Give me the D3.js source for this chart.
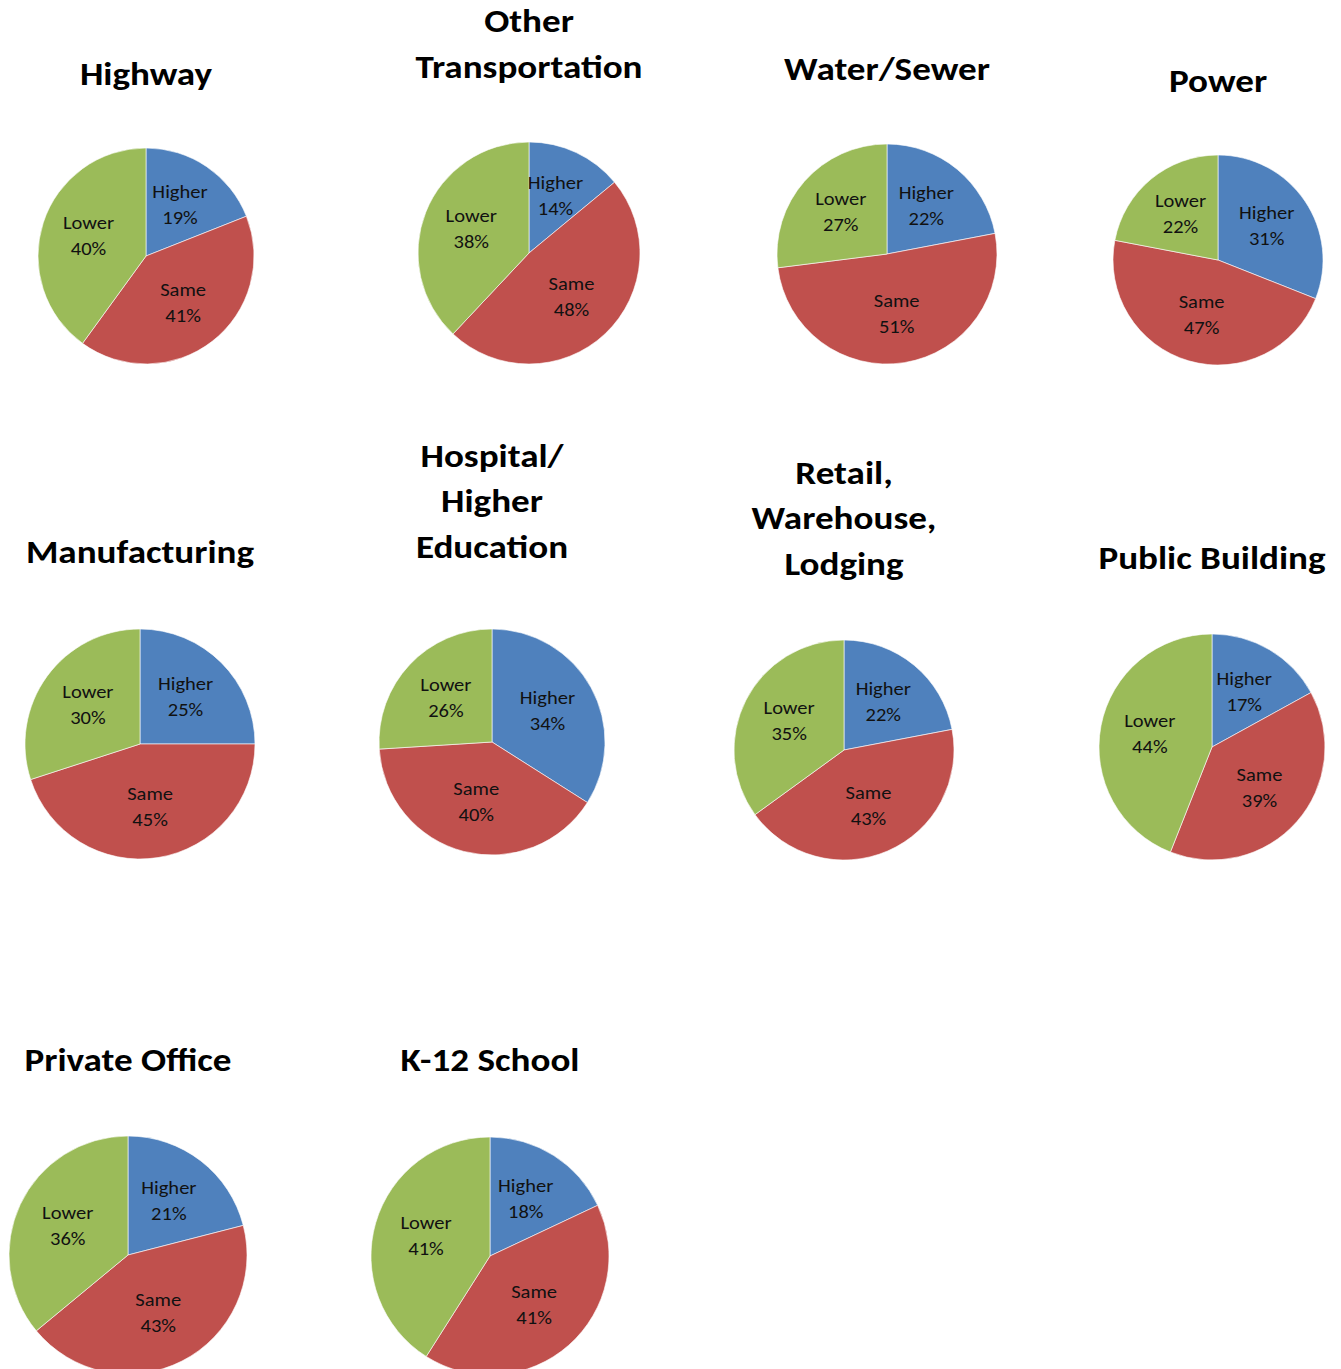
<!DOCTYPE html>
<html>
<head>
<meta charset="utf-8">
<title>Pies</title>
<script src="https://cdn.jsdelivr.net/npm/d3@7"></script>
<style>
	html, body { margin: 0; padding: 0; background: #fff; }
	svg { display: block; }
	.title { font-family: Carlito, Calibri, 'Open Sans', sans-serif; font-weight: bold; font-size: 32px; fill: #000; }
	.lbl { font-family: Carlito, Calibri, 'Open Sans', sans-serif; font-size: 19px; fill: #111; }
</style>
</head>
<body>
<svg id="chart" width="1341" height="1369"></svg>
<script>
/*global d3 */
// chart data
var categories = ['Highway', 'Other|Transportation', 'Water/Sewer', 'Power',
	'Manufacturing', 'Hospital/|Higher|Education', 'Retail,|Warehouse,|Lodging', 'Public Building',
	'Private Office', 'K-12 School'];
var sliceNames = ['Higher', 'Same', 'Lower'];
var higher = [19, 14, 22, 31, 25, 34, 22, 17, 21, 18];
var same = [41, 48, 51, 47, 45, 40, 43, 39, 43, 41];
var lower = [40, 38, 27, 22, 30, 26, 35, 44, 36, 41];

(function () {
	'use strict';
	var svg = d3.select('#chart'),
		colors = d3.scaleOrdinal().domain(sliceNames).range(['#4F81BD', '#C0504D', '#9BBB59']),
		// layout: pie centre, radius, and y of the last title line (cap middle)
		layout = [
			{ cx: 146, cy: 256, r: 108, ty: 75 },
			{ cx: 529, cy: 253, r: 111, ty: 68 },
			{ cx: 887, cy: 254, r: 110, ty: 70 },
			{ cx: 1218, cy: 260, r: 105, ty: 82 },
			{ cx: 140, cy: 744, r: 115, ty: 553 },
			{ cx: 492, cy: 742, r: 113, ty: 548 },
			{ cx: 844, cy: 750, r: 110, ty: 565 },
			{ cx: 1212, cy: 747, r: 113, ty: 559 },
			{ cx: 128, cy: 1255, r: 119, ty: 1061 },
			{ cx: 490, cy: 1256, r: 119, ty: 1061 }
		],
		// the source text is set a little wide
		stretch = 1.16,
		pie = d3.pie().sort(null).value(function (d) { return d.value; }),
		drawPie;

	drawPie = function (idx) {
		var box = layout[idx],
			values = [higher[idx], same[idx], lower[idx]],
			rows = sliceNames.map(function (n, i) { return { name: n, value: values[i] }; }),
			arcs = pie(rows),
			arc = d3.arc().innerRadius(0).outerRadius(box.r),
			labelArc = d3.arc().innerRadius(box.r * 0.56).outerRadius(box.r * 0.56),
			lines = categories[idx].split('|'),
			g, title, lbl;

		// title, stacked upward from the last line
		title = svg.append('text').attr('class', 'title').attr('text-anchor', 'middle')
			.attr('transform', 'translate(' + box.cx + ',0) scale(' + stretch + ',1)');
		lines.forEach(function (line, i) {
			title.append('tspan')
				.attr('x', 0)
				.attr('y', box.ty + 10 - (lines.length - 1 - i) * 45.5)
				.text(line);
		});

		g = svg.append('g').attr('transform', 'translate(' + box.cx + ',' + box.cy + ')');

		g.selectAll('path.slice').data(arcs).enter().append('path')
			.attr('class', 'slice')
			.attr('d', arc)
			.attr('fill', function (d) { return colors(d.data.name); })
			.attr('stroke', '#fff')
			.attr('stroke-width', 0.6);

		lbl = g.selectAll('text.lbl').data(arcs).enter().append('text')
			.attr('class', 'lbl')
			.attr('text-anchor', 'middle')
			.attr('transform', function (d) {
				var c = labelArc.centroid(d);
				return 'translate(' + c[0] + ',' + c[1] + ') scale(1.08,1)';
			});
		lbl.append('tspan').attr('x', 0).attr('y', -8).text(function (d) { return d.data.name; });
		lbl.append('tspan').attr('x', 0).attr('y', 18).text(function (d) { return d.data.value + '%'; });
	};

	categories.forEach(function (c, i) { drawPie(i); });
}());
</script>
</body>
</html>
